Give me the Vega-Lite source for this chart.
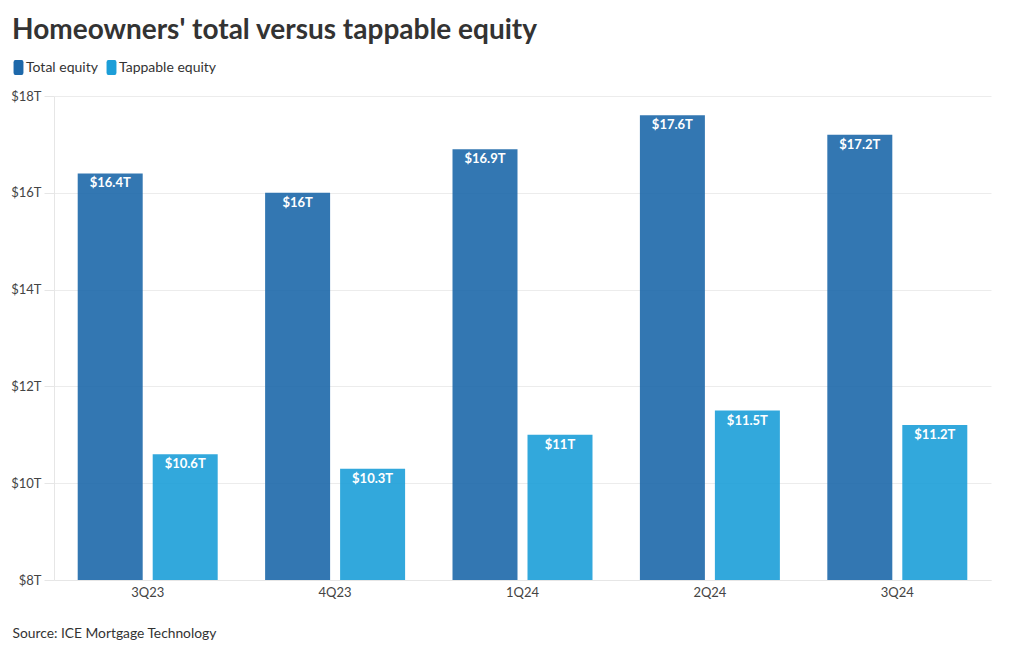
{
  "$schema": "https://vega.github.io/schema/vega-lite/v6.json",
  "width": 937,
  "height": 484,
  "autosize": {"type": "none"},
  "padding": {"left": 54, "top": 96, "right": 29, "bottom": 70},
  "background": "white",
  "config": {
    "font": "Lato",
    "view": {"stroke": null}
  },
  "title": {
    "text": "Homeowners' total versus tappable equity",
    "anchor": "start",
    "frame": "group",
    "dx": -42,
    "offset": 15,
    "fontSize": 28,
    "fontWeight": "bold",
    "color": "#333333",
    "font": "Lato"
  },
  "data": {
    "values": [
      {"quarter": "3Q23", "series": "Total equity", "value": 16.4},
      {"quarter": "3Q23", "series": "Tappable equity", "value": 10.6},
      {"quarter": "4Q23", "series": "Total equity", "value": 16},
      {"quarter": "4Q23", "series": "Tappable equity", "value": 10.3},
      {"quarter": "1Q24", "series": "Total equity", "value": 16.9},
      {"quarter": "1Q24", "series": "Tappable equity", "value": 11},
      {"quarter": "2Q24", "series": "Total equity", "value": 17.6},
      {"quarter": "2Q24", "series": "Tappable equity", "value": 11.5},
      {"quarter": "3Q24", "series": "Total equity", "value": 17.2},
      {"quarter": "3Q24", "series": "Tappable equity", "value": 11.2}
    ]
  },
  "transform": [
    {"calculate": "'$' + datum.value + 'T'", "as": "label"}
  ],
  "encoding": {
    "x": {
      "field": "quarter",
      "type": "nominal",
      "sort": ["3Q23", "4Q23", "1Q24", "2Q24", "3Q24"],
      "scale": {"paddingInner": 0.253, "paddingOuter": 0.1265},
      "axis": {
        "title": "Source: ICE Mortgage Technology",
        "titleX": -42,
        "titleY": 57,
        "titleAlign": "left",
        "titleBaseline": "alphabetic",
        "titleFontSize": 13.8,
        "titleFontWeight": "normal",
        "titleColor": "#333333",
        "labelAngle": 0,
        "labelFontSize": 13,
        "labelColor": "#444444",
        "labelPadding": 6,
        "ticks": false,
        "domainColor": "#e6e6e6"
      }
    },
    "xOffset": {
      "field": "series",
      "type": "nominal",
      "sort": ["Total equity", "Tappable equity"],
      "scale": {"paddingInner": 0.1333, "paddingOuter": 0}
    },
    "y": {
      "field": "value",
      "type": "quantitative",
      "scale": {"domain": [8, 18], "zero": false, "nice": false},
      "axis": {
        "title": null,
        "values": [8, 10, 12, 14, 16, 18],
        "labelExpr": "'$' + datum.value + 'T'",
        "labelFontSize": 13,
        "labelColor": "#444444",
        "labelPadding": 3,
        "tickSize": 10,
        "tickColor": "#e6e6e6",
        "gridColor": "#ececec",
        "domainColor": "#e6e6e6"
      }
    }
  },
  "layer": [
    {
      "mark": {"type": "bar", "opacity": 0.9},
      "encoding": {
        "y2": {"datum": 8},
        "color": {
          "field": "series",
          "type": "nominal",
          "sort": ["Total equity", "Tappable equity"],
          "scale": {"domain": ["Total equity", "Tappable equity"], "range": ["#1d68aa", "#1c9ed8"]},
          "legend": {
            "title": null,
            "orient": "none",
            "direction": "horizontal",
            "legendX": -43,
            "legendY": -36,
            "symbolType": "M-0.42,-1 L0.42,-1 Q0.66,-1 0.66,-0.7 L0.66,0.7 Q0.66,1 0.42,1 L-0.42,1 Q-0.66,1 -0.66,0.7 L-0.66,-0.7 Q-0.66,-1 -0.42,-1 Z",
            "symbolSize": 225,
            "symbolOpacity": 1,
            "symbolStrokeWidth": 0,
            "labelFontSize": 14,
            "labelColor": "#333333",
            "labelOffset": 0,
            "columnPadding": 6
          }
        }
      }
    },
    {
      "mark": {"type": "text", "baseline": "top", "dy": 4, "color": "white", "fontWeight": "bold", "fontSize": 13},
      "encoding": {
        "text": {"field": "label"}
      }
    }
  ]
}
